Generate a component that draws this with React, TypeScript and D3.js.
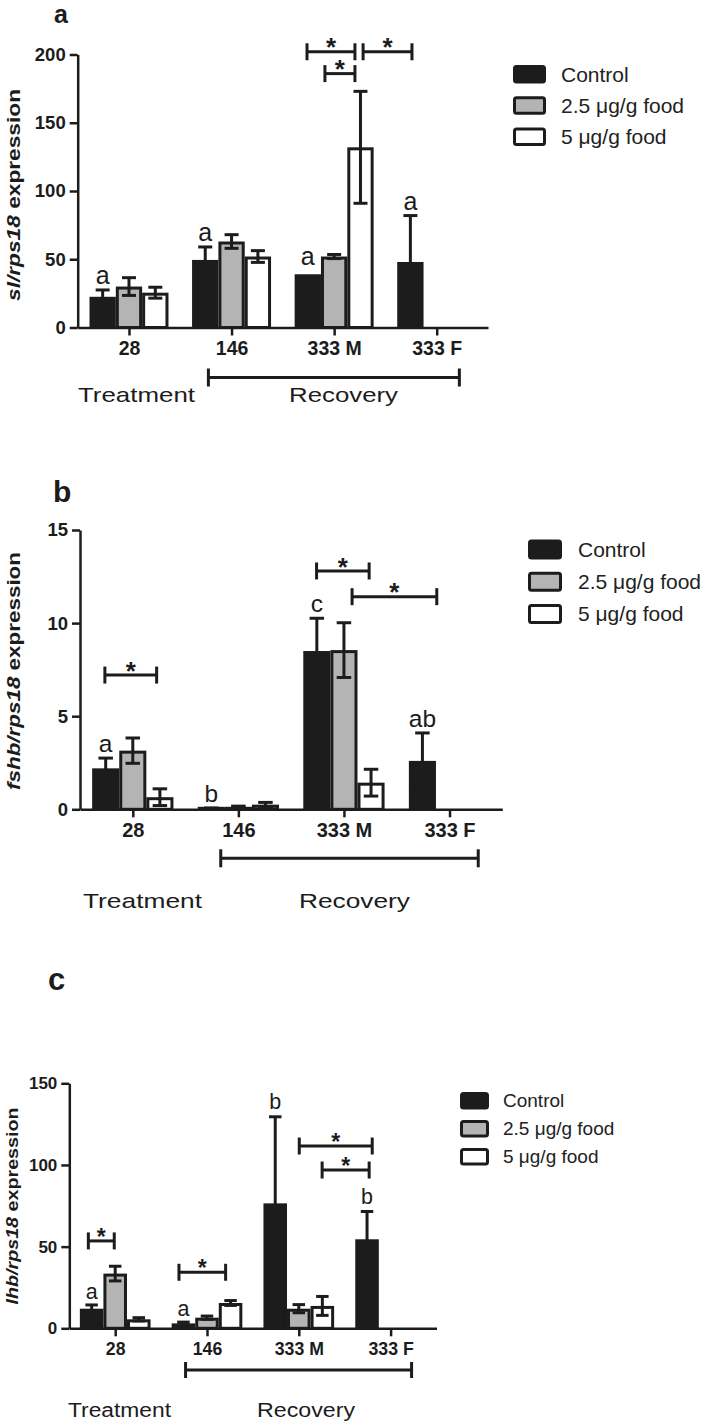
import React, { useEffect, useRef } from 'react';
import * as d3 from 'd3';

const timepoints = ['28', '146', '333 M', '333 F'];
const groupNames = ['Control', '2.5 μg/g food', '5 μg/g food'];
const groupFills = ['#1c1c1c', '#b4b4b4', '#ffffff'];
const INK = '#1c1c1c';

// panel a : sl/rps18
const slControl = [22.5, 49.5, 39, 48];
const slControlErr = [5, 9.5, 0, 34];
const slLow = [30, 63, 52, null];
const slLowErr = [6.5, 5, 1.5, null];
const slHigh = [25.5, 52, 132, null];
const slHighErr = [4, 4.3, 41, null];
const slLetters = ['a', 'a', 'a', 'a'];
const slBrackets = [
  { from: [2, 0.47], to: [2, 2.29], y: 202 },
  { from: [2, 1.15], to: [2, 2.29], y: 186 },
  { from: [2, 2.6], to: [3, 0.56], y: 202 },
];

// panel b : fshb/rps18
const fshbControl = [2.2, 0.05, 8.5, 2.6];
const fshbControlErr = [0.55, 0.02, 1.76, 1.5];
const fshbLow = [3.15, 0.12, 8.55, null];
const fshbLowErr = [0.68, 0.05, 1.47, null];
const fshbHigh = [0.65, 0.25, 1.43, null];
const fshbHighErr = [0.45, 0.12, 0.72, null];
const fshbLetters = ['a', 'b', 'c', 'ab'];
const fshbBrackets = [
  { from: [0, 0.47], to: [0, 2.38], y: 7.21 },
  { from: [2, 0.49], to: [2, 2.43], y: 12.8 },
  { from: [2, 1.8], to: [3, 1.03], y: 11.42 },
];

// panel c : lhb/rps18
const lhbControl = [12, 3, 76.5, 54.5];
const lhbControlErr = [2.3, 0.8, 53, 17];
const lhbLow = [33.5, 6.5, 12, null];
const lhbLowErr = [4.5, 1, 2.5, null];
const lhbHigh = [5.5, 15.5, 13.7, null];
const lhbHighErr = [1, 1.5, 5.8, null];
const lhbLetters = ['a', 'a', 'b', 'b'];
const lhbBrackets = [
  { from: [0, 0.36], to: [0, 1.46], y: 53.5 },
  { from: [1, 0.31], to: [1, 2.29], y: 34.3 },
  { from: [2, 1.52], to: [3, 0.72], y: 111.6 },
  { from: [2, 2.49], to: [3, 0.59], y: 96.9 },
];

const panels = [
  {
    label: 'a', labelX: 54, labelY: 23, labelSize: 25,
    left: 77.7, right: 488, top: 54.5, bottom: 327.5, yMax: 200, yTicks: [0, 50, 100, 150, 200],
    series: [slControl, slLow, slHigh], errors: [slControlErr, slLowErr, slHighErr],
    letters: slLetters, letterGap: [6, 6, 9, 6], brackets: slBrackets,
    gene: 'sl/rps18', yLabelX: 20, yLabelY: 195, yLabelLen: 212, yLabelSize: 18,
    tickFont: 18.5, catFont: 19.5, letterFont: 25, capW: 14, starFont: 26,
    recovery: { from: [1, 0.62], to: [3, 2.36], dy: 50, half: 9 },
    bottomY: 402, treatX: 78, treatLen: 117, recovX: 289, recovLen: 109, bottomFont: 21,
    legend: { x: 513, y: 65, w: 33, h: 18.5, gap: 31.3, textX: 561, font: 21 },
  },
  {
    label: 'b', labelX: 53, labelY: 502, labelSize: 30,
    left: 80, right: 502.3, top: 530, bottom: 809.3, yMax: 15, yTicks: [0, 5, 10, 15],
    series: [fshbControl, fshbLow, fshbHigh], errors: [fshbControlErr, fshbLowErr, fshbHighErr],
    letters: fshbLetters, letterGap: [6, 6, 6, 6], brackets: fshbBrackets,
    gene: 'fshb/rps18', yLabelX: 20, yLabelY: 671, yLabelLen: 238, yLabelSize: 18,
    tickFont: 18.5, catFont: 20, letterFont: 24.5, capW: 14.5, starFont: 26,
    recovery: { from: [1, 0.85], to: [3, 2.56], dy: 49, half: 9 },
    bottomY: 908, treatX: 83, treatLen: 119, recovX: 299, recovLen: 111, bottomFont: 21,
    legend: { x: 528, y: 539.5, w: 34, h: 20, gap: 32.3, textX: 578, font: 21 },
  },
  {
    label: 'c', labelX: 48, labelY: 990, labelSize: 31,
    left: 69.3, right: 436.5, top: 1083.3, bottom: 1328.3, yMax: 150, yTicks: [0, 50, 100, 150],
    series: [lhbControl, lhbLow, lhbHigh], errors: [lhbControlErr, lhbLowErr, lhbHighErr],
    letters: lhbLetters, letterGap: [6, 6, 8, 8], brackets: lhbBrackets,
    gene: 'lhb/rps18', yLabelX: 18, yLabelY: 1206, yLabelLen: 197, yLabelSize: 16,
    tickFont: 17, catFont: 17.7, letterFont: 21.5, capW: 12.5, starFont: 23,
    recovery: { from: [1, 0.59], to: [3, 2.39], dy: 41.7, half: 8 },
    bottomY: 1417, treatX: 68, treatLen: 103, recovX: 257, recovLen: 98, bottomFont: 20,
    legend: { x: 460, y: 1092, w: 29, h: 17.5, gap: 28, textX: 503, font: 19 },
  },
];

const FONT = "'Liberation Sans', Arial, Helvetica, sans-serif";

function drawPanel(svg, p) {
  const g = svg.append('g');

  const x = d3.scalePoint().domain(timepoints).range([p.left, p.right]).padding(0.5);
  const groupW = x.step() * 0.77;
  const sub = d3.scaleBand().domain(d3.range(3)).range([0, groupW]);
  const slotW = sub.bandwidth();
  const y = d3.scaleLinear().domain([0, p.yMax]).range([p.bottom, p.top]);
  const xAt = (c, s) => x(timepoints[c]) - groupW / 2 + s * slotW;

  // bars
  p.series.forEach((vals, si) => {
    vals.forEach((v, ci) => {
      if (v == null) return;
      const top = Math.min(y(v) + 1.5, y(0) - 1);
      g.append('rect')
        .attr('x', xAt(ci, 0) + sub(si) + 1.5)
        .attr('width', slotW - 3)
        .attr('y', top)
        .attr('height', y(0) - top)
        .attr('fill', groupFills[si])
        .attr('stroke', INK)
        .attr('stroke-width', 3);
    });
  });

  // error bars (mean ± SE)
  p.series.forEach((vals, si) => {
    vals.forEach((v, ci) => {
      if (v == null) return;
      const e = p.errors[si][ci];
      if (!e) return;
      const cx = xAt(ci, si + 0.5);
      const y1 = y(v + e);
      const y0 = y(Math.max(0, v - e));
      const eb = g.append('g').attr('stroke', INK).attr('stroke-width', 3);
      eb.append('line').attr('x1', cx).attr('x2', cx).attr('y1', y1).attr('y2', y0);
      [y1, y0].forEach(yy => {
        eb.append('line')
          .attr('x1', cx - p.capW / 2).attr('x2', cx + p.capW / 2)
          .attr('y1', yy).attr('y2', yy);
      });
    });
  });

  // letters over control bars
  p.letters.forEach((t, ci) => {
    const v = p.series[0][ci] + p.errors[0][ci];
    g.append('text')
      .attr('x', xAt(ci, 0.5))
      .attr('y', y(v) - p.letterGap[ci])
      .attr('text-anchor', 'middle')
      .style('font-family', FONT)
      .style('font-size', p.letterFont + 'px')
      .attr('fill', INK)
      .text(t);
  });

  // axes
  const yAxis = g.append('g')
    .attr('transform', `translate(${p.left},0)`)
    .call(d3.axisLeft(y).tickValues(p.yTicks).tickSize(8).tickPadding(4).tickSizeOuter(0));
  const xAxis = g.append('g')
    .attr('transform', `translate(0,${p.bottom})`)
    .call(d3.axisBottom(x).tickSize(8).tickPadding(6).tickSizeOuter(0));

  [yAxis, xAxis].forEach(ax => {
    ax.selectAll('path, line').attr('stroke', INK).attr('stroke-width', 2.5);
    ax.attr('font-family', FONT).attr('font-weight', 'bold');
  });
  yAxis.selectAll('text').attr('fill', INK).style('font-size', p.tickFont + 'px');
  xAxis.selectAll('text').attr('fill', INK).style('font-size', p.catFont + 'px');

  // significance brackets
  p.brackets.forEach(b => {
    const xa = xAt(b.from[0], b.from[1]);
    const xb = xAt(b.to[0], b.to[1]);
    const yy = y(b.y);
    const br = g.append('g').attr('stroke', INK).attr('stroke-width', 3);
    br.append('line').attr('x1', xa).attr('x2', xb).attr('y1', yy).attr('y2', yy);
    [xa, xb].forEach(xx => {
      br.append('line').attr('x1', xx).attr('x2', xx).attr('y1', yy - 8.5).attr('y2', yy + 8.5);
    });
    g.append('text')
      .attr('x', (xa + xb) / 2)
      .attr('y', yy + p.starFont * 0.18)
      .attr('text-anchor', 'middle')
      .style('font-family', FONT)
      .style('font-weight', 'bold')
      .style('font-size', p.starFont + 'px')
      .attr('fill', INK)
      .text('*');
  });

  // recovery range
  const r = p.recovery;
  const ry = y(0) + r.dy;
  const rx0 = xAt(r.from[0], r.from[1]);
  const rx1 = xAt(r.to[0], r.to[1]);
  const rg = g.append('g').attr('stroke', INK).attr('stroke-width', 3);
  rg.append('line').attr('x1', rx0).attr('x2', rx1).attr('y1', ry).attr('y2', ry);
  [rx0, rx1].forEach(xx => {
    rg.append('line').attr('x1', xx).attr('x2', xx).attr('y1', ry - r.half).attr('y2', ry + r.half);
  });

  [['Treatment', p.treatX, p.treatLen], ['Recovery', p.recovX, p.recovLen]].forEach(([t, tx, len]) => {
    g.append('text')
      .attr('x', tx)
      .attr('y', p.bottomY)
      .attr('textLength', len)
      .attr('lengthAdjust', 'spacingAndGlyphs')
      .style('font-family', FONT)
      .style('font-size', p.bottomFont + 'px')
      .attr('fill', INK)
      .text(t);
  });

  // y label
  const yl = g.append('text')
    .attr('transform', `translate(${p.yLabelX},${p.yLabelY}) rotate(-90)`)
    .attr('text-anchor', 'middle')
    .attr('textLength', p.yLabelLen)
    .attr('lengthAdjust', 'spacingAndGlyphs')
    .style('font-family', FONT)
    .style('font-weight', 'bold')
    .style('font-size', p.yLabelSize + 'px')
    .attr('fill', INK);
  yl.append('tspan').style('font-style', 'italic').text(p.gene);
  yl.append('tspan').text(' expression');

  // panel letter
  g.append('text')
    .attr('x', p.labelX)
    .attr('y', p.labelY)
    .style('font-family', FONT)
    .style('font-weight', 'bold')
    .style('font-size', p.labelSize + 'px')
    .attr('fill', INK)
    .text(p.label);

  // legend
  const L = p.legend;
  groupNames.forEach((name, i) => {
    const top = L.y + i * L.gap;
    g.append('rect')
      .attr('x', L.x + 1.5)
      .attr('y', top + 1.5)
      .attr('width', L.w - 3)
      .attr('height', L.h - 3)
      .attr('rx', 2)
      .attr('fill', groupFills[i])
      .attr('stroke', INK)
      .attr('stroke-width', 3);
    g.append('text')
      .attr('x', L.textX)
      .attr('y', top + L.h / 2)
      .attr('dy', '0.35em')
      .style('font-family', FONT)
      .style('font-size', L.font + 'px')
      .attr('fill', '#222')
      .text(name);
  });
}

const App = () => {
  const svgRef = useRef(null);

  useEffect(() => {
    const svg = d3.select(svgRef.current);
    svg.selectAll('*').remove();
    panels.forEach(p => drawPanel(svg, p));
  }, []);

  return (
    <svg
      ref={svgRef}
      width={712}
      height={1425}
      style={{ position: 'absolute', left: 0, top: 0, background: '#fff' }}
    />
  );
};

export default App;
